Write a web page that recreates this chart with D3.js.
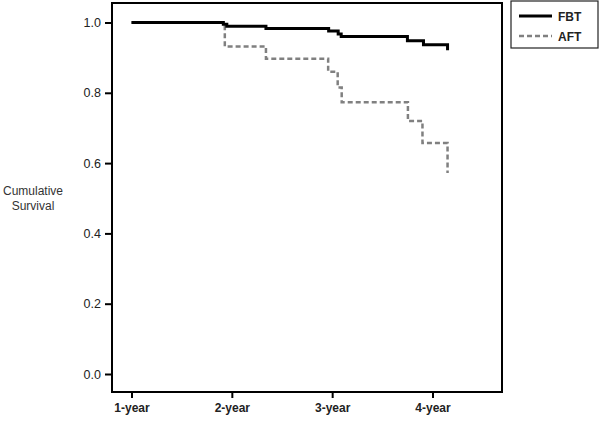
<!DOCTYPE html>
<html><head><meta charset="utf-8">
<script src="https://cdn.jsdelivr.net/npm/d3@7"></script>
<style>body{margin:0;background:#fff}svg{display:block}</style>
</head><body>
<script>
const fbtTimes = [1, 1.915, 1.95, 2.34, 2.965, 3.06, 3.09, 3.75, 3.91, 4.15];
const fbtSurv  = [1, 0.995, 0.989, 0.983, 0.976, 0.967, 0.960, 0.948, 0.937, 0.921];
const aftTimes = [1, 1.93, 2.34, 2.96, 3.055, 3.095, 3.755, 3.90, 4.15];
const aftSurv  = [1, 0.932, 0.897, 0.860, 0.815, 0.773, 0.720, 0.657, 0.572];
const xTickVals = [1, 2, 3, 4];
const xTickLabels = ["1-year", "2-year", "3-year", "4-year"];
const yTickVals = [0, 0.2, 0.4, 0.6, 0.8, 1.0];
const seriesNames = ["FBT", "AFT"];

const W = 600, H = 423;
const svg = d3.select("body").append("svg").attr("width", W).attr("height", H);
const frame = {l: 112, r: 502, t: 3, b: 392};
const x = d3.scaleLinear().domain([1, 4]).range([131.5, 432.5]);
const y = d3.scaleLinear().domain([0, 1]).range([374, 22.5]);
const FONT = "Arial, 'Liberation Sans', sans-serif";

svg.append("rect").attr("x", frame.l).attr("y", frame.t)
  .attr("width", frame.r - frame.l).attr("height", frame.b - frame.t)
  .attr("fill", "none").attr("stroke", "#000").attr("stroke-width", 2);

const xAxis = svg.append("g").attr("transform", `translate(0,${frame.b})`)
  .call(d3.axisBottom(x).tickValues(xTickVals).tickFormat((d,i)=>xTickLabels[i]).tickSize(6).tickPadding(5));
const yAxis = svg.append("g").attr("transform", `translate(${frame.l},0)`)
  .call(d3.axisLeft(y).tickValues(yTickVals).tickFormat(d3.format(".1f")).tickSize(7).tickPadding(4));
[xAxis, yAxis].forEach(g => {
  g.select(".domain").remove();
  g.selectAll(".tick line").attr("stroke", "#000").attr("stroke-width", 2);
  g.selectAll(".tick text").attr("fill", "#222").attr("font-family", FONT)
    .attr("font-size", 12).attr("font-weight", "bold");
});
yAxis.selectAll(".tick text").attr("font-weight", "normal").attr("font-size", 12.5);

const yl = svg.append("text").attr("text-anchor", "middle").attr("fill", "#333")
  .attr("font-family", FONT).attr("font-size", 12);
yl.append("tspan").attr("x", 33).attr("y", 195).text("Cumulative");
yl.append("tspan").attr("x", 33).attr("y", 210).text("Survival");

const line = d3.line().x(d => x(d[0])).y(d => y(d[1])).curve(d3.curveStepAfter);
const aftData = aftTimes.map((t,i)=>[t, aftSurv[i]]);
const fbtData = fbtTimes.map((t,i)=>[t, fbtSurv[i]]);

svg.append("path").attr("d", line(aftData)).attr("fill", "none")
  .attr("stroke", "#808080").attr("stroke-width", 2.5).attr("stroke-dasharray", "5,3");
svg.append("path").attr("d", line(fbtData)).attr("fill", "none")
  .attr("stroke", "#000").attr("stroke-width", 3);

const lg = svg.append("g");
lg.append("rect").attr("x", 511).attr("y", 1).attr("width", 87).attr("height", 47)
  .attr("fill", "#fff").attr("stroke", "#222").attr("stroke-width", 1.2);
const styles = [{c:"#000", w:3, d:null}, {c:"#808080", w:2.5, d:"5,3"}];
seriesNames.forEach((n,i) => {
  const yy = 16 + i*20;
  const l = lg.append("line").attr("x1", 519).attr("x2", 552).attr("y1", yy).attr("y2", yy)
    .attr("stroke", styles[i].c).attr("stroke-width", styles[i].w);
  if (styles[i].d) l.attr("stroke-dasharray", styles[i].d);
  lg.append("text").attr("x", 558).attr("y", yy + 4.5).text(n).attr("fill", "#222")
    .attr("font-family", FONT).attr("font-size", 12).attr("font-weight", "bold");
});
</script>
</body></html>
